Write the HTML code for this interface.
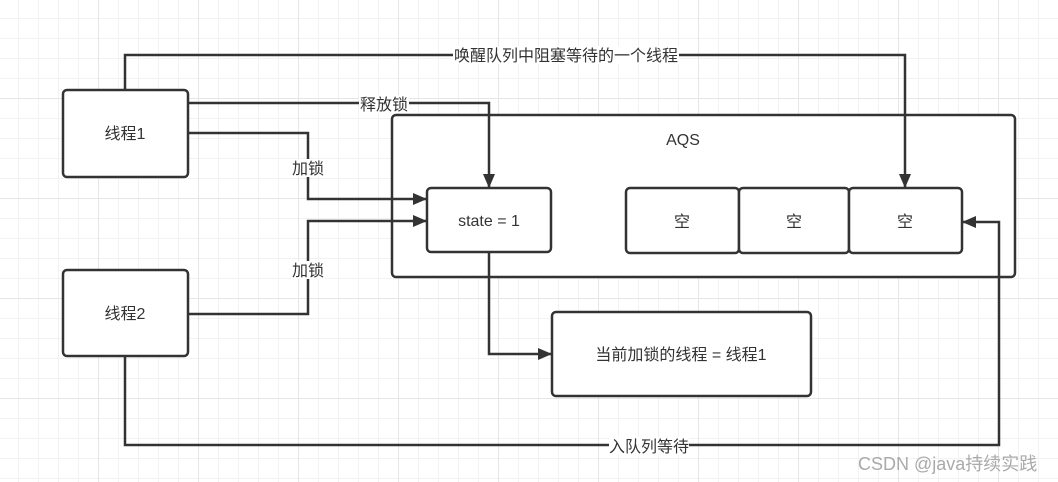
<!DOCTYPE html>
<html><head><meta charset="utf-8"><style>
body{margin:0;width:1058px;height:482px;overflow:hidden;background:#fff;
background-image:linear-gradient(#e6e6e6 1px,transparent 1px),linear-gradient(90deg,#e6e6e6 1px,transparent 1px),linear-gradient(#f2f2f2 1px,transparent 1px),linear-gradient(90deg,#f2f2f2 1px,transparent 1px);
background-size:100px 100px,100px 100px,20px 20px,20px 20px;background-position:-2px -2px}
</style></head><body>
<svg width="1058" height="482" style="position:absolute;left:0;top:0" font-family="'Liberation Sans','Noto Sans CJK SC',sans-serif" font-size="16" fill="#333">
<defs><marker id="a" markerWidth="14" markerHeight="12" refX="13" refY="6" orient="auto" markerUnits="userSpaceOnUse"><path d="M0,0 L14,6 L0,12 Z" fill="#333"/></marker></defs>
<g stroke="#333" stroke-width="2.5" fill="#fff">
<rect x="392" y="115" width="623" height="162" rx="4"/>
<rect x="63" y="90" width="125" height="87" rx="4"/>
<rect x="63" y="270" width="125" height="86" rx="4"/>
<rect x="427" y="188" width="124" height="64" rx="4"/>
<rect x="626" y="188" width="113" height="65" rx="4"/>
<rect x="739" y="188" width="110" height="65" rx="4"/>
<rect x="849" y="188" width="113" height="65" rx="4"/>
<rect x="552" y="312" width="259" height="84" rx="4"/>
</g>
<g stroke="#333" stroke-width="2.5" fill="none" marker-end="url(#a)">
<path d="M125,90 V55 H905 V187"/>
<path d="M188,103 H489 V187"/>
<path d="M188,133 H308 V199 H426"/>
<path d="M188,314 H308 V221 H426"/>
<path d="M489,252 V354 H551"/>
<path d="M125,356 V445 H999 V222 H963"/>
</g>
<g fill="#fff"><rect x="453" y="46" width="226" height="18"/><rect x="359" y="95" width="50" height="18"/><rect x="291" y="159" width="34" height="18"/><rect x="291" y="261" width="34" height="18"/><rect x="609" y="437" width="80" height="18"/></g>
<g text-anchor="middle">
<text x="566" y="61">唤醒队列中阻塞等待的一个线程</text>
<text x="384" y="110">释放锁</text>
<text x="308" y="174">加锁</text>
<text x="308" y="276">加锁</text>
<text x="649" y="452">入队列等待</text>
<text x="125" y="139">线程1</text>
<text x="125" y="319">线程2</text>
<text x="683" y="145">AQS</text>
<text x="489" y="226">state = 1</text>
<text x="682" y="227">空</text>
<text x="794" y="227">空</text>
<text x="905" y="227">空</text>
<text x="681" y="360">当前加锁的线程 = 线程1</text>
</g>
<text x="858" y="470" font-size="18" fill="#aaa">CSDN @java持续实践</text>
</svg>
</body></html>
